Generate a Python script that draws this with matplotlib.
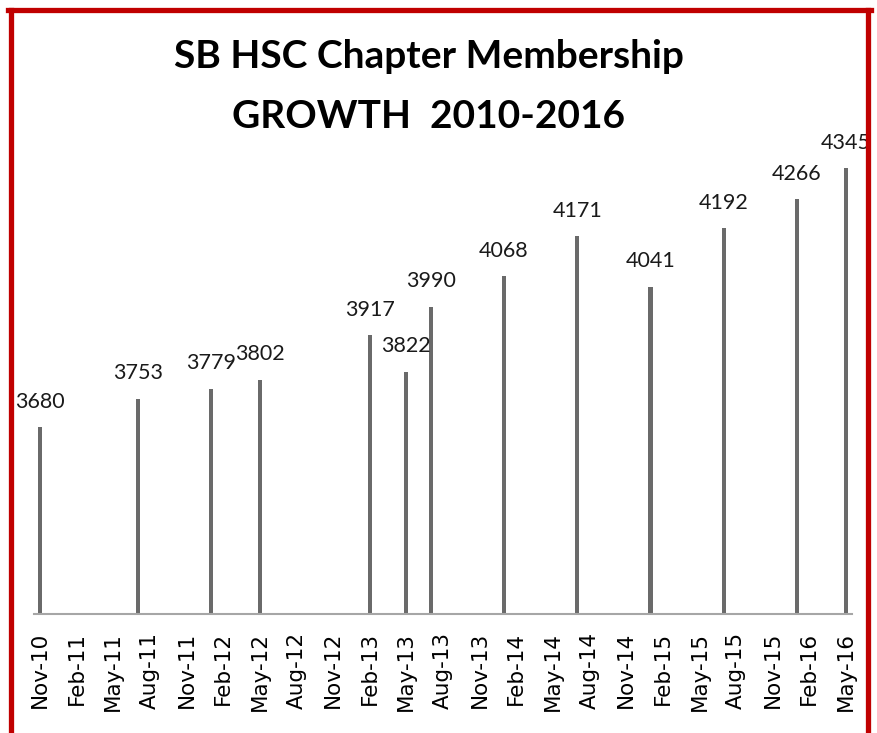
import pandas as pd
import matplotlib
matplotlib.use("Agg")
from matplotlib import pyplot as plt
from matplotlib.lines import Line2D

# membership counts
months = ["2010-11", "2011-07", "2012-01", "2012-05", "2013-02", "2013-05",
          "2013-07", "2014-01", "2014-07", "2015-01", "2015-07", "2016-01",
          "2016-05"]
members = [3680, 3753, 3779, 3802, 3917, 3822, 3990, 4068, 4171, 4041,
           4192, 4266, 4345]

start = pd.Period("2010-11", freq="M")
end = pd.Period("2016-05", freq="M")
all_months = pd.period_range(start, end, freq="M")
tick_periods = all_months[::3]
tick_labels = [p.strftime("%b-%y") for p in tick_periods]

x = [(pd.Period(m, freq="M") - start).n for m in months]
tick_pos = [(p - start).n for p in tick_periods]

W, H = 877, 733
fig = plt.figure(figsize=(W / 100, H / 100), dpi=100)
ax = fig.add_axes([34 / W, 1 - 614 / H, 818 / W, (614 - 147) / H])

ax.bar(x, [m - 3200 for m in members], bottom=3200, width=0.34,
       color="#6a6a6a")
ax.set_xlim(-0.5, (end - start).n + 0.5)
ax.set_ylim(3200, 4400)

for xi, v in zip(x, members):
    ax.annotate(str(v), (xi, v), xytext=(0, 14), textcoords="offset points",
                ha="center", va="baseline", fontsize=15.5, family="Lato",
                color="#1a1a1a")

ax.set_xticks(tick_pos)
ax.set_xticklabels(tick_labels, rotation=90, fontsize=15.5,
                   family="DejaVu Sans")
ax.tick_params(axis="x", length=0, pad=13)
ax.set_yticks([])
for s in ["left", "right", "top"]:
    ax.spines[s].set_visible(False)
ax.spines["bottom"].set_color("#a6a6a6")
ax.spines["bottom"].set_linewidth(1.5)

fig.text(429 / W, 1 - 56 / H, "SB HSC Chapter Membership", ha="center",
         va="center", fontsize=28, fontweight="bold", family="Lato")
fig.text(429 / W, 1 - 116 / H, "GROWTH  2010-2016", ha="center",
         va="center", fontsize=28, fontweight="bold", family="Lato")

# red frame (bottom edge runs off the image)
red = "#c00000"
lw = 3.8
fig.add_artist(Line2D([10.5 / W, 10.5 / W], [0, 1 - 10 / H],
                      transform=fig.transFigure, color=red, lw=lw))
fig.add_artist(Line2D([868 / W, 868 / W], [0, 1 - 10 / H],
                      transform=fig.transFigure, color=red, lw=lw))
fig.add_artist(Line2D([8 / W, 870.5 / W], [1 - 10 / H, 1 - 10 / H],
                      transform=fig.transFigure, color=red, lw=lw))

fig.savefig("out.png", dpi=100)
